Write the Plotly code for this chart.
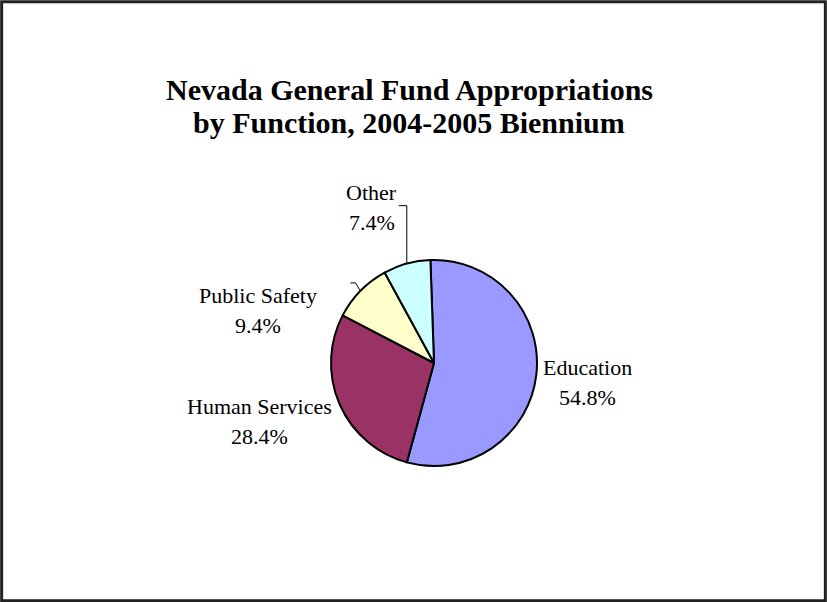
import math
import plotly.graph_objects as go

categories = ["Education", "Human Services", "Public Safety", "Other"]
values = [54.8, 28.4, 9.4, 7.4]
percent_labels = ["54.8%", "28.4%", "9.4%", "7.4%"]
colors = ["#9999FF", "#993366", "#FFFFCC", "#CCFFFF"]

W, H = 827, 602
cx, cy, r = 434, 363, 103
rotation = -2

# label text-centre offsets (px) from the slice's mid-point on the rim
label_offsets = [(51, 8), (-80, 17), (-102, 20), (-35, -56)]
# leader-line bends (px, relative to rim point); None = no leader
leaders = [None, None, [(-5, -8), (-10, -8)], [(0, -58), (-8, -58)]]

def px(x):
    return x / W

def py(y):
    return 1 - y / H

fig = go.Figure()
fig.add_trace(go.Pie(
    labels=categories,
    values=values,
    sort=False,
    direction="clockwise",
    rotation=rotation,
    marker=dict(colors=colors, line=dict(color="#000000", width=2)),
    textinfo="none",
    showlegend=False,
    hoverinfo="label+percent",
    domain=dict(x=[(cx - r) / W, (cx + r) / W], y=[(H - cy - r) / H, (H - cy + r) / H]),
))

annotations = []
shapes = []
total = sum(values)
cum = 0.0
lab_font = dict(family="Liberation Serif", size=22, color="#000000")
for name, v, pct, (ox, oy), lead in zip(categories, values, percent_labels, label_offsets, leaders):
    mid = math.radians(rotation + (cum + v / 2) / total * 360)
    cum += v
    ex = cx + r * math.sin(mid)
    ey = cy - r * math.cos(mid)
    tx, ty = ex + ox, ey + oy
    annotations.append(dict(x=px(tx), y=py(ty - 15), xref="paper", yref="paper", text=name,
                            showarrow=False, xanchor="center", yanchor="middle", font=lab_font))
    annotations.append(dict(x=px(tx), y=py(ty + 15), xref="paper", yref="paper", text=pct,
                            showarrow=False, xanchor="center", yanchor="middle", font=lab_font))
    if lead:
        path = f"M {px(ex)} {py(ey)}"
        for (lx, ly) in lead:
            path += f" L {px(ex + lx)} {py(ey + ly)}"
        shapes.append(dict(type="path", xref="paper", yref="paper", path=path,
                           line=dict(color="#000000", width=1)))

title_font = dict(family="Liberation Serif", size=30, color="#000000")
for txt, y in [("<b>Nevada General Fund Appropriations</b>", 90),
               ("<b>by Function, 2004-2005 Biennium</b>", 123)]:
    annotations.append(dict(x=px(409), y=py(y), xref="paper", yref="paper", text=txt,
                            showarrow=False, xanchor="center", yanchor="middle", font=title_font))

shapes.append(dict(type="rect", xref="paper", yref="paper", x0=0.002, x1=0.998, y0=0.002, y1=0.997,
                   line=dict(color="#222222", width=3)))

fig.update_layout(
    width=W, height=H,
    margin=dict(l=0, r=0, t=0, b=0),
    paper_bgcolor="#FFFFFF",
    plot_bgcolor="#FFFFFF",
    annotations=annotations,
    shapes=shapes,
)

fig.write_html("out.html")
